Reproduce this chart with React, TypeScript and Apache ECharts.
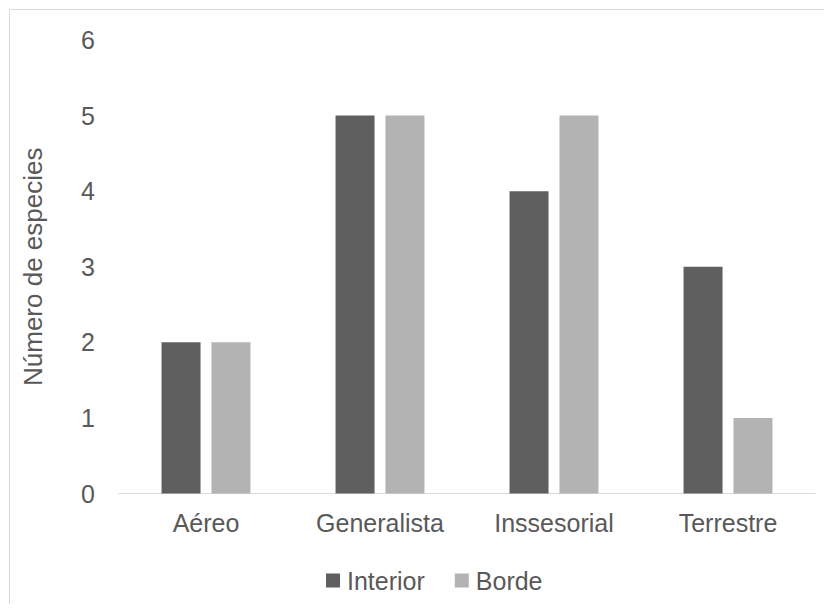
import React, { useEffect, useRef } from "react";
import * as echarts from "echarts";

const categories = ["Aéreo", "Generalista", "Inssesorial", "Terrestre"];
const interiorValues = [2, 5, 4, 3];
const bordeValues = [2, 5, 5, 1];
const yTicks = [0, 1, 2, 3, 4, 5, 6];

const FONT = "'Liberation Sans', Arial, sans-serif";
const TEXT = "#595959";

export default function App() {
  const ref = useRef<HTMLDivElement>(null);
  useEffect(() => {
    if (!ref.current) return;
    const chart = echarts.init(ref.current, undefined, { renderer: "svg" });
    chart.setOption({
      animation: false,
      backgroundColor: "#ffffff",
      textStyle: { fontFamily: FONT },
      graphic: [
        { type: "line", shape: { x1: 1.5, y1: 1.5, x2: 1.5, y2: 596 }, style: { stroke: "#d9d9d9", lineWidth: 1 } },
        { type: "line", shape: { x1: 1.5, y1: 1.5, x2: 816, y2: 1.5 }, style: { stroke: "#d9d9d9", lineWidth: 1 } },
      ],
      grid: { left: 111, right: 9, top: 32, bottom: 110.5, containLabel: false },
      legend: {
        left: 313,
        top: 555,
        itemWidth: 14,
        itemHeight: 14,
        itemGap: 30,
        icon: "rect",
        textStyle: { fontFamily: FONT, fontSize: 25, color: TEXT, padding: [0, 0, 0, 2] },
        data: ["Interior", "Borde"],
      },
      xAxis: {
        type: "category",
        data: categories,
        axisLine: { lineStyle: { color: "#d9d9d9", width: 1 } },
        axisTick: { show: false },
        axisLabel: { fontFamily: FONT, fontSize: 25, color: TEXT, margin: 17 },
      },
      yAxis: {
        type: "value",
        min: yTicks[0],
        max: yTicks[yTicks.length - 1],
        interval: 1,
        name: "Número de especies",
        nameLocation: "middle",
        nameRotate: 90,
        nameGap: 73,
        nameTextStyle: { fontFamily: FONT, fontSize: 26, color: TEXT },
        axisLine: { show: false },
        axisTick: { show: false },
        splitLine: { show: false },
        axisLabel: { fontFamily: FONT, fontSize: 25, color: TEXT, margin: 24 },
      },
      series: [
        {
          name: "Interior",
          type: "bar",
          data: interiorValues,
          barWidth: 39,
          barGap: "28%",
          itemStyle: { color: "#5f5f5f" },
        },
        {
          name: "Borde",
          type: "bar",
          data: bordeValues,
          barWidth: 39,
          barGap: "28%",
          itemStyle: { color: "#b3b3b3" },
        },
      ],
    });
    return () => chart.dispose();
  }, []);
  return <div ref={ref} style={{ width: 816, height: 596 }} />;
}
